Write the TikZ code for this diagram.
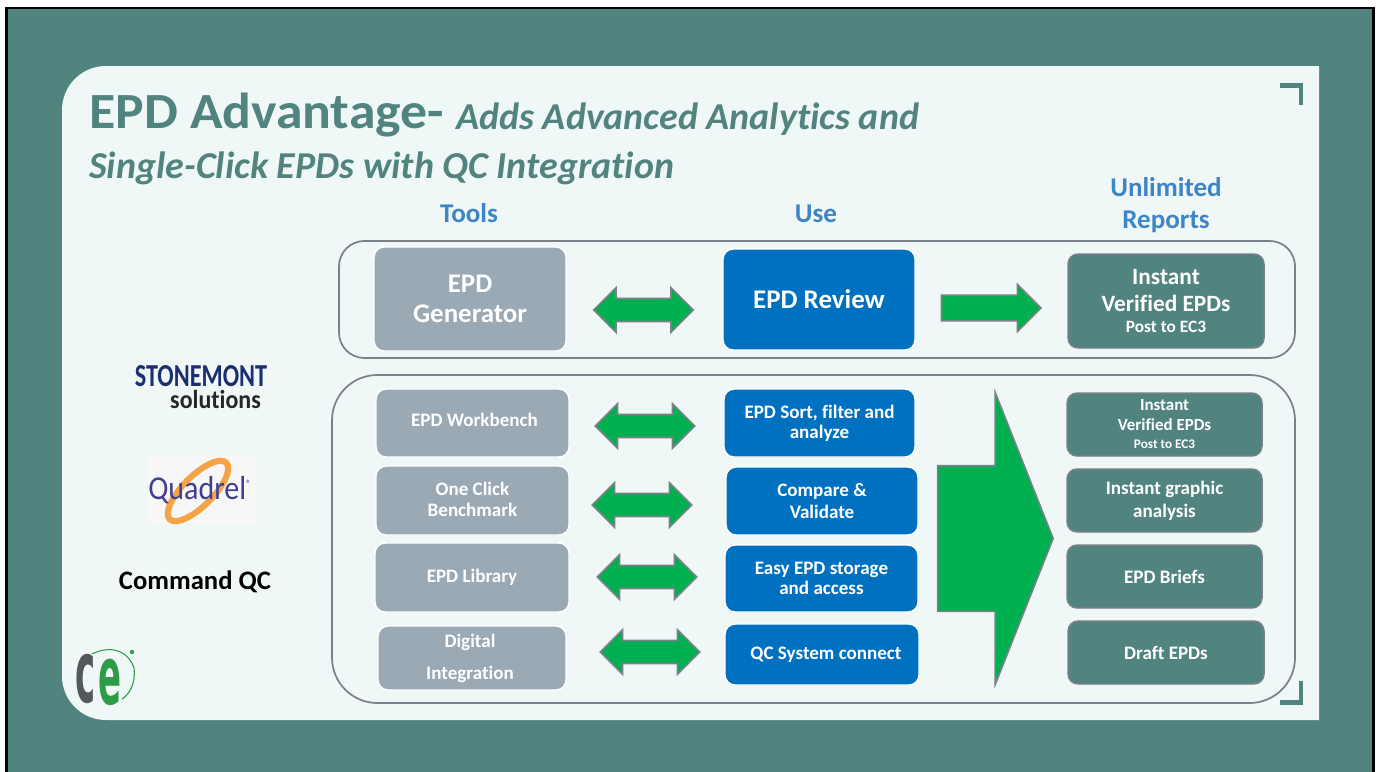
\documentclass[tikz,border=0pt]{standalone}
\usepackage{fontspec}
\setmainfont{Carlito}[Ligatures=NoCommon]
\newfontfamily\cefont{DejaVu Sans}
\usetikzlibrary{shapes.arrows}
\definecolor{teal1}{HTML}{52847F}
\definecolor{panel}{HTML}{F0F8F7}
\definecolor{blue1}{HTML}{0070C0}
\definecolor{head1}{HTML}{3E85C8}
\definecolor{gray1}{HTML}{9BA9B5}
\definecolor{green1}{HTML}{00B050}
\definecolor{edge1}{HTML}{7C8088}
\definecolor{navy1}{HTML}{1B2F70}
\definecolor{quad1}{HTML}{3F3F92}
\definecolor{orange1}{HTML}{F5A347}
\definecolor{cegray}{HTML}{54585A}
\definecolor{cegreen}{HTML}{2E9B47}
\newcommand{\fsz}[2]{\fontsize{#1}{#2}\selectfont\bfseries}
\newcommand{\bx}[7]{\node[#6,minimum width={0.75*(#4-#2)*1pt},minimum height={0.75*(#5-#3)*1pt}] (#1) at ({(#2+#4)/2},{(#3+#5)/2}) {#7};}
\newcommand{\darrow}[3]{\node[dblarrow] (#1) at (#2,#3) {};}
\tikzset{
  boxbase/.style={rectangle,rounded corners=7.5pt,inner sep=0pt,align=center,text=white,line width=1.1pt},
  toolbox/.style={boxbase,fill=gray1,draw=white},
  usebox/.style={boxbase,fill=blue1,draw=white},
  repbox/.style={boxbase,fill=teal1,draw=edge1},
  group/.style={rectangle,draw=edge1,line width=1.3pt,fill=none},
  dblarrow/.style={double arrow,draw=edge1,fill=green1,line width=1.2pt,inner xsep=0pt,inner ysep=8pt,
    minimum height=74.5pt,minimum width=32pt,double arrow head extend=8pt,double arrow tip angle=90},
  headtxt/.style={inner sep=0pt,text=head1,align=center,font=\fsz{20.3}{24}},
  cornermark/.style={draw=teal1,line width=3.6pt},
  b143/.style={font=\fsz{14.3}{16}},
}
\begin{document}
\begin{tikzpicture}[x=0.75pt,y=-0.75pt]
\useasboundingbox (0,0) rectangle (1377,771);
\fill[white] (0,0) rectangle (1377,771);
\draw[fill=teal1,draw=black,line width=2.2pt] (6.5,8) rectangle (1373.5,790);
\fill[panel] (700,66) [rounded corners=33pt] -- (62,66) -- (62,720) -- (700,720) [sharp corners] -- (1319,720) -- (1319,66) -- cycle;
% corner marks
\coordinate (m1a) at (1280,85.5); \coordinate (m1b) at (1301,85.5); \coordinate (m1c) at (1301,105);
\draw[cornermark] (m1a) -- (m1b) -- (m1c);
\coordinate (m2a) at (1280,702.5); \coordinate (m2b) at (1301,702.5); \coordinate (m2c) at (1301,681);
\draw[cornermark] (m2a) -- (m2b) -- (m2c);
% title
\node[anchor=base west,inner sep=0pt,text=teal1,xscale=1.06] (t1) at (89,128) {\fsz{38}{42}EPD Advantage-};
\node[anchor=base west,inner sep=0pt,text=teal1] (t2) at (456,129) {\fsz{28.5}{32}\itshape Adds Advanced Analytics and};
\node[anchor=base west,inner sep=0pt,text=teal1] (t3) at (89,178) {\fsz{28.5}{32}\itshape Single-Click EPDs with QC Integration};
% column heads
\node[headtxt] (h1) at (469,213) {Tools};
\node[headtxt] (h2) at (816,213.5) {Use};
\node[headtxt] (h3) at (1166,205) {Unlimited\\Reports};
% groups
\bx{g1}{339}{241}{1295}{358}{group,rounded corners=19pt}{}
\bx{g2}{332}{375}{1295}{703}{group,rounded corners=34pt}{}
% top row
\bx{gen}{374}{247}{566}{351}{toolbox,font=\fsz{20.2}{22}}{EPD\\Generator}
\bx{rev}{723}{249}{915}{350}{usebox,font=\fsz{20.2}{22}}{EPD Review}
\bx{inst}{1068}{254}{1264}{348}{repbox,font=\fsz{17.5}{20}}{\raisebox{-2pt}{Instant}\\\raisebox{-2pt}{Verified EPDs}\\[-3pt]\fontsize{13}{17}\selectfont\raisebox{-0.8pt}{Post to EC3}}
\darrow{a0}{643.5}{310}
\node[single arrow,draw=edge1,fill=green1,line width=1.2pt,inner xsep=0pt,inner ysep=9pt,minimum height=74.5pt,minimum width=34pt,single arrow head extend=8pt,single arrow tip angle=90,anchor=tip] (a1) at (1042,308) {};
% tools
\bx{t-a}{376}{389}{569}{457}{toolbox,b143}{\hspace*{3pt}\raisebox{4.5pt}{EPD Workbench}}
\bx{t-b}{376}{466}{569}{535}{toolbox,b143}{\raisebox{1.5pt}{One Click}\\\raisebox{1.5pt}{Benchmark}}
\bx{t-c}{375}{543}{569}{612}{toolbox,b143}{EPD Library}
\bx{t-d}{378}{626}{566}{690}{toolbox,font=\fsz{14.3}{24}}{\raisebox{1.5pt}{\hspace*{-3pt}Digital}\\\raisebox{1.5pt}{\hspace*{-3pt}Integration}}
% use
\bx{u-a}{724}{389}{915}{457}{usebox,font=\fsz{14.3}{15}}{\raisebox{-1pt}{EPD Sort, filter and}\\\raisebox{-1pt}{analyze}}
\bx{u-b}{726}{467}{918}{535}{usebox,b143}{Compare \&\\Validate}
\bx{u-c}{725}{545}{918}{612}{usebox,b143}{\raisebox{-0.5pt}{Easy EPD storage}\\and access}
\bx{u-d}{725}{624}{919}{685}{usebox,b143}{\hspace*{6pt}\raisebox{1pt}{QC System connect}}
% reports
\bx{r-a}{1067}{393}{1262}{456}{repbox,font=\fsz{12.7}{15}}{\raisebox{-2pt}{Instant}\\\raisebox{-2pt}{Verified EPDs}\\[-0.75pt]\fontsize{9.9}{14}\selectfont\raisebox{-1.2pt}{Post to EC3}}
\bx{r-b}{1067}{469}{1262}{532}{repbox,font=\fsz{14.3}{17}}{\raisebox{-1.5pt}{Instant graphic}\\\raisebox{-1.5pt}{analysis}}
\bx{r-c}{1067}{545}{1262}{608}{repbox,b143}{EPD Briefs}
\bx{r-d}{1068}{621}{1264}{684}{repbox,b143}{Draft EPDs}
% double arrows
\darrow{a2}{645}{426}
\darrow{a3}{642}{505}
\darrow{a4}{647}{577}
\darrow{a5}{650}{652}
% big arrow
\node[single arrow,draw=edge1,fill=green1,line width=1.2pt,inner xsep=0pt,inner ysep=54pt,minimum height=86.7pt,minimum width=218pt,single arrow head extend=55pt,single arrow tip angle=136.7,anchor=tip] (big) at (1054,538.5) {};
% logos
\node[inner sep=0pt,text=navy1,xscale=0.757] (lg1) at (201,376) {\fsz{24}{26}STONEMONT};
\node[inner sep=0pt,text=black!85,xscale=0.92] (lg2) at (215.5,399.5) {\fsz{19.5}{20}solutions};
\fill[black!3] (148,455) rectangle (256,525);
\draw[orange1,line width=4.6pt,rotate around={45:(198,491)}] (198,491) ellipse [x radius=40,y radius=15];
\node[inner sep=0pt,text=quad1,xscale=0.9] (lg3) at (200,490) {\fsz{25}{26}\mdseries Quadrel\textsuperscript{\fontsize{8}{8}\selectfont ®}};
\node[inner sep=0pt,text=black] (cq) at (195,582) {\fsz{20}{22}Command QC};
% CE logo
\node[inner sep=0pt,text=cegray,xscale=0.67,yscale=1.7] (ce1) at (85.5,679) {\cefont\fontsize{38}{40}\selectfont\bfseries c};
\node[inner sep=0pt,text=cegreen,xscale=0.67,yscale=1.6] (ce2) at (110.5,682) {\cefont\fontsize{38}{40}\selectfont\bfseries e};
\draw[cegreen,line width=0.8pt] (92,654) .. controls (110,645) and (128,650) .. (134,668) .. controls (136,682) and (130,694) .. (122,699);
\fill[cegreen] (132,652) circle (2.2);
\end{tikzpicture}
\end{document}
